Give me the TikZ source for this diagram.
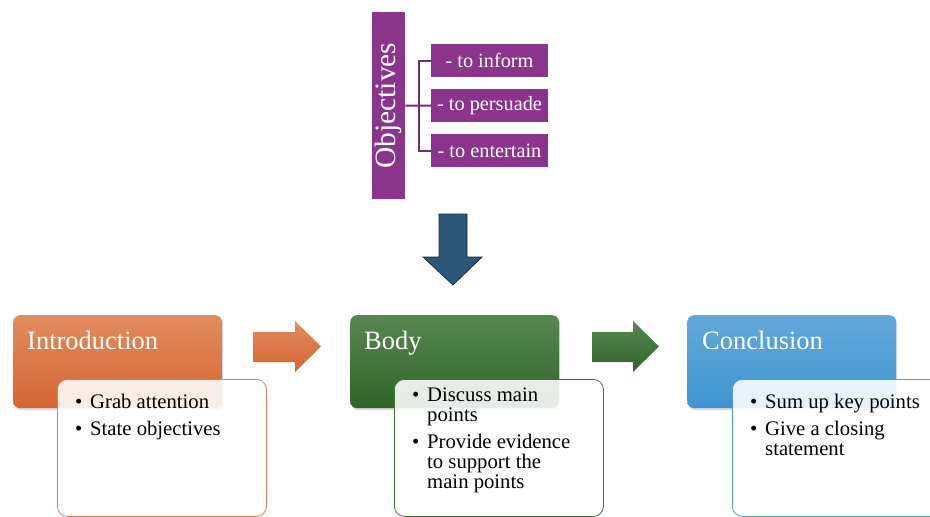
\documentclass[tikz,border=0pt]{standalone}
\usepackage{fontspec}
\setmainfont{Liberation Serif}
\usetikzlibrary{shadows}
\definecolor{purp}{RGB}{139,52,139}
\definecolor{purpdark}{RGB}{120,42,120}
\definecolor{otop}{RGB}{226,140,96}
\definecolor{obot}{RGB}{212,100,48}
\definecolor{oline}{RGB}{222,125,80}
\definecolor{gtop}{RGB}{88,135,82}
\definecolor{gbot}{RGB}{48,100,42}
\definecolor{gline}{RGB}{60,115,55}
\definecolor{btop}{RGB}{100,168,218}
\definecolor{bbot}{RGB}{62,148,208}
\definecolor{bline}{RGB}{80,155,212}
\definecolor{darr}{RGB}{44,87,120}
\definecolor{darrline}{RGB}{22,45,65}
\newcommand{\bitem}[1]{\par\noindent\hangindent=15pt\hangafter=1\makebox[15pt][l]{\textbullet}#1}
\newcommand{\bpara}[2]{\begin{minipage}[t]{#1}\fontsize{20.7}{20}\selectfont\parskip=7.5pt\parindent=0pt #2\end{minipage}}
\begin{document}
\begin{tikzpicture}[x=1pt,y=-1pt,
  hdr/.style={rounded corners=7pt, minimum width=209pt, minimum height=93pt, anchor=north west, inner sep=0pt,
    drop shadow={shadow xshift=1pt, shadow yshift=-2pt, opacity=0.3}},
  txtbox/.style={rounded corners=10pt, minimum width=209pt, minimum height=137pt, anchor=north west, inner sep=0pt,
    line width=0.8pt, fill=white, fill opacity=0.88},
  hdrtext/.style={anchor=base west, inner sep=0pt, text=white, font=\fontsize{26.5}{30}\selectfont},
  bodytext/.style={anchor=base west, inner sep=0pt, text=black},
  pbox/.style={fill=purp, minimum width=117pt, minimum height=33pt, inner sep=0pt, text=white,
    font=\fontsize{20.3}{24}\selectfont},
  brk/.style={draw=purpdark, line width=2pt}
]
\useasboundingbox (0,0) rectangle (930,517);

% Objectives
\node[fill=purp, minimum width=33pt, minimum height=187pt, inner sep=0pt, anchor=north west] (objbox) at (372,12) {};
\node[rotate=90, text=white, font=\fontsize{29.5}{34}\selectfont, inner sep=0pt] (obj) at (objbox.center) {Objectives};
\node[pbox] (b1) at (489.5,60.5) {- to inform};
\node[pbox] (b2) at (489.5,105.5) {- to persuade};
\node[pbox] (b3) at (489.5,150.5) {- to entertain};
\draw[brk] (b1.west) -- ++(-12,0) |- (b3.west);
\draw[brk] (objbox.east) -- (b2.west);

% down arrow
\filldraw[fill=darr, draw=darrline, line width=0.8pt] (439,214) -- (467,214) -- (467,257) -- (482,257) -- (453,285) -- (423,257) -- (439,257) -- cycle;

% right arrows
\shade[top color=otop, bottom color=obot] (253,332) -- (295,332) -- (295,321) -- (321,346.5) -- (295,372) -- (295,362) -- (253,362) -- cycle;
\shade[top color=gtop, bottom color=gbot] (592,332) -- (633,332) -- (633,321) -- (659,346.5) -- (633,372) -- (633,362) -- (592,362) -- cycle;

% Introduction
\node[hdr, top color=otop, bottom color=obot] (ih) at (13,315) {};
\node[hdrtext] (iht) at (27,349) {Introduction};
\node[txtbox, draw=oline] (ib) at (57,379) {};
\node[bodytext] (ibt) at (75,408) {\bpara{180pt}{\bitem{Grab attention}\bitem{State objectives}}};

% Body
\node[hdr, top color=gtop, bottom color=gbot] (bh) at (350,315) {};
\node[hdrtext] (bht) at (364,349) {Body};
\node[txtbox, draw=gline] (bb) at (394,379) {};
\node[bodytext] (bbt) at (412,401) {\bpara{185pt}{\bitem{Discuss main\\points}\bitem{Provide evidence\\to support the\\main points}}};

% Conclusion
\node[hdr, top color=btop, bottom color=bbot] (ch) at (687,315) {};
\node[hdrtext] (cht) at (702,349) {Conclusion};
\node[txtbox, draw=bline] (cb) at (732,379) {};
\node[bodytext] (cbt) at (750,408) {\bpara{185pt}{\bitem{Sum up key points}\bitem{Give a closing\\statement}}};
\end{tikzpicture}
\end{document}
